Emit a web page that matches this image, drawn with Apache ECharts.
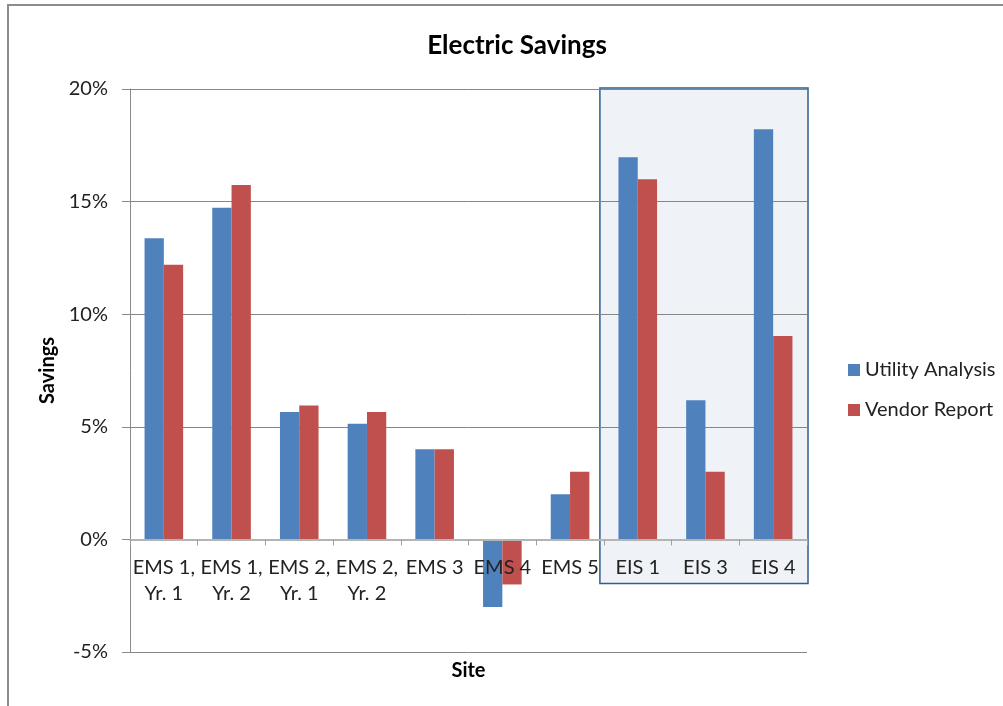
<!DOCTYPE html>
<html>
<head>
<meta charset="utf-8">
<script src="https://cdn.jsdelivr.net/npm/echarts@6/dist/echarts.min.js"></script>
<style>
  html, body { margin: 0; padding: 0; background: #ffffff; }
  #chart { width: 1003px; height: 706px; }
</style>
</head>
<body>
<div id="chart"></div>
<script>
// Sites along the x axis
const sites = ['EMS 1,\nYr. 1', 'EMS 1,\nYr. 2', 'EMS 2,\nYr. 1', 'EMS 2,\nYr. 2', 'EMS 3', 'EMS 4', 'EMS 5', 'EIS 1', 'EIS 3', 'EIS 4'];
// Savings as fractions
const utilityAnalysis = [0.1337, 0.1473, 0.0566, 0.0514, 0.040, -0.030, 0.020, 0.1697, 0.0618, 0.1821];
const vendorReport    = [0.1220, 0.1574, 0.0595, 0.0566, 0.040, -0.020, 0.030, 0.1599, 0.0300, 0.0903];
// Value axis settings
const yMin = -0.05, yMax = 0.20, yStep = 0.05;
// Sites grouped inside the highlighted box
const boxFirst = 'EIS 1', boxLast = 'EIS 4';

const font = 'Lato, "Liberation Sans", sans-serif';
const gridTop = 89, gridBottom = 54, chartHeight = 706;
// The category axis sits on the 0% line: shift it up from the bottom of the plot
const plotHeight = chartHeight - gridTop - gridBottom;
const zeroOffset = plotHeight * (0 - yMin) / (yMax - yMin);

const chart = echarts.init(document.getElementById('chart'), null, { renderer: 'canvas' });

const option = {
  backgroundColor: '#ffffff',
  animation: false,
  textStyle: { fontFamily: font },
  title: {
    text: 'Electric Savings',
    left: 512, top: 28, textAlign: 'center',
    textStyle: { fontFamily: font, fontSize: 26, fontWeight: 'bold', color: '#000' }
  },
  legend: {
    orient: 'vertical',
    left: 843, top: 355,
    itemWidth: 12, itemHeight: 12, itemGap: 20,
    icon: 'rect',
    textStyle: { fontFamily: font, fontSize: 20, color: '#222' },
    data: ['Utility Analysis', 'Vendor Report']
  },
  grid: { left: 130, right: 196, top: gridTop, bottom: gridBottom, containLabel: false, outerBoundsMode: 'none' },
  xAxis: {
    type: 'category',
    data: sites,
    z: 3,
    offset: -zeroOffset,
    name: 'Site',
    nameLocation: 'middle',
    nameGap: 121,
    nameTextStyle: { fontFamily: font, fontSize: 20, fontWeight: 'bold', color: '#000' },
    axisLine: { onZero: false, lineStyle: { color: '#b4b4b4', width: 2 } },
    axisTick: { show: true, length: 6, lineStyle: { color: '#a0a0a0' } },
    axisLabel: {
      interval: 0, margin: 15, lineHeight: 26,
      fontFamily: font, fontSize: 20, color: '#222'
    },
    splitLine: { show: false }
  },
  yAxis: {
    type: 'value',
    min: yMin, max: yMax, interval: yStep,
    name: 'Savings',
    nameLocation: 'middle',
    nameGap: 69,
    nameTextStyle: { fontFamily: font, fontSize: 20, fontWeight: 'bold', color: '#000' },
    axisLine: { show: true, lineStyle: { color: '#8a8a8a' } },
    axisTick: { show: true, inside: false, length: 8, lineStyle: { color: '#8a8a8a' } },
    axisLabel: {
      margin: 22, fontFamily: font, fontSize: 20, color: '#222',
      formatter: v => Math.round(v * 100) + '%'
    },
    splitLine: { show: true, lineStyle: { color: '#868686', width: 1 } }
  },
  series: [
    {
      name: 'Utility Analysis', type: 'bar', data: utilityAnalysis,
      barGap: '0%', barCategoryGap: '43%',
      itemStyle: { color: '#4f81bd' }
    },
    {
      name: 'Vendor Report', type: 'bar', data: vendorReport,
      barGap: '0%', barCategoryGap: '43%',
      itemStyle: { color: '#c0504d' }
    }
  ]
};
chart.setOption(option);

// Highlight box spanning the EIS categories, from the top of the plot down past the labels
const bandHalf = (chart.convertToPixel({ xAxisIndex: 0 }, sites[1]) - chart.convertToPixel({ xAxisIndex: 0 }, sites[0])) / 2;
const bx0 = chart.convertToPixel({ xAxisIndex: 0 }, boxFirst) - bandHalf - 4;
const bx1 = chart.convertToPixel({ xAxisIndex: 0 }, boxLast) + bandHalf + 1;
const by0 = chart.convertToPixel({ yAxisIndex: 0 }, yMax) - 1;
const by1 = chart.convertToPixel({ yAxisIndex: 0 }, 0) + 44;

chart.setOption({
  graphic: [
    {
      type: 'rect', z: -10, silent: true,
      shape: { x: 8, y: 5, width: 1100, height: 800 },
      style: { fill: 'none', stroke: '#8c8c8c', lineWidth: 2 }
    },
    {
      type: 'rect', z: -5, silent: true,
      shape: { x: bx0, y: by0, width: bx1 - bx0, height: by1 - by0 },
      style: { fill: '#eff3f7', stroke: '#2f5f8f', lineWidth: 1.5 }
    }
  ]
});
</script>
</body>
</html>
